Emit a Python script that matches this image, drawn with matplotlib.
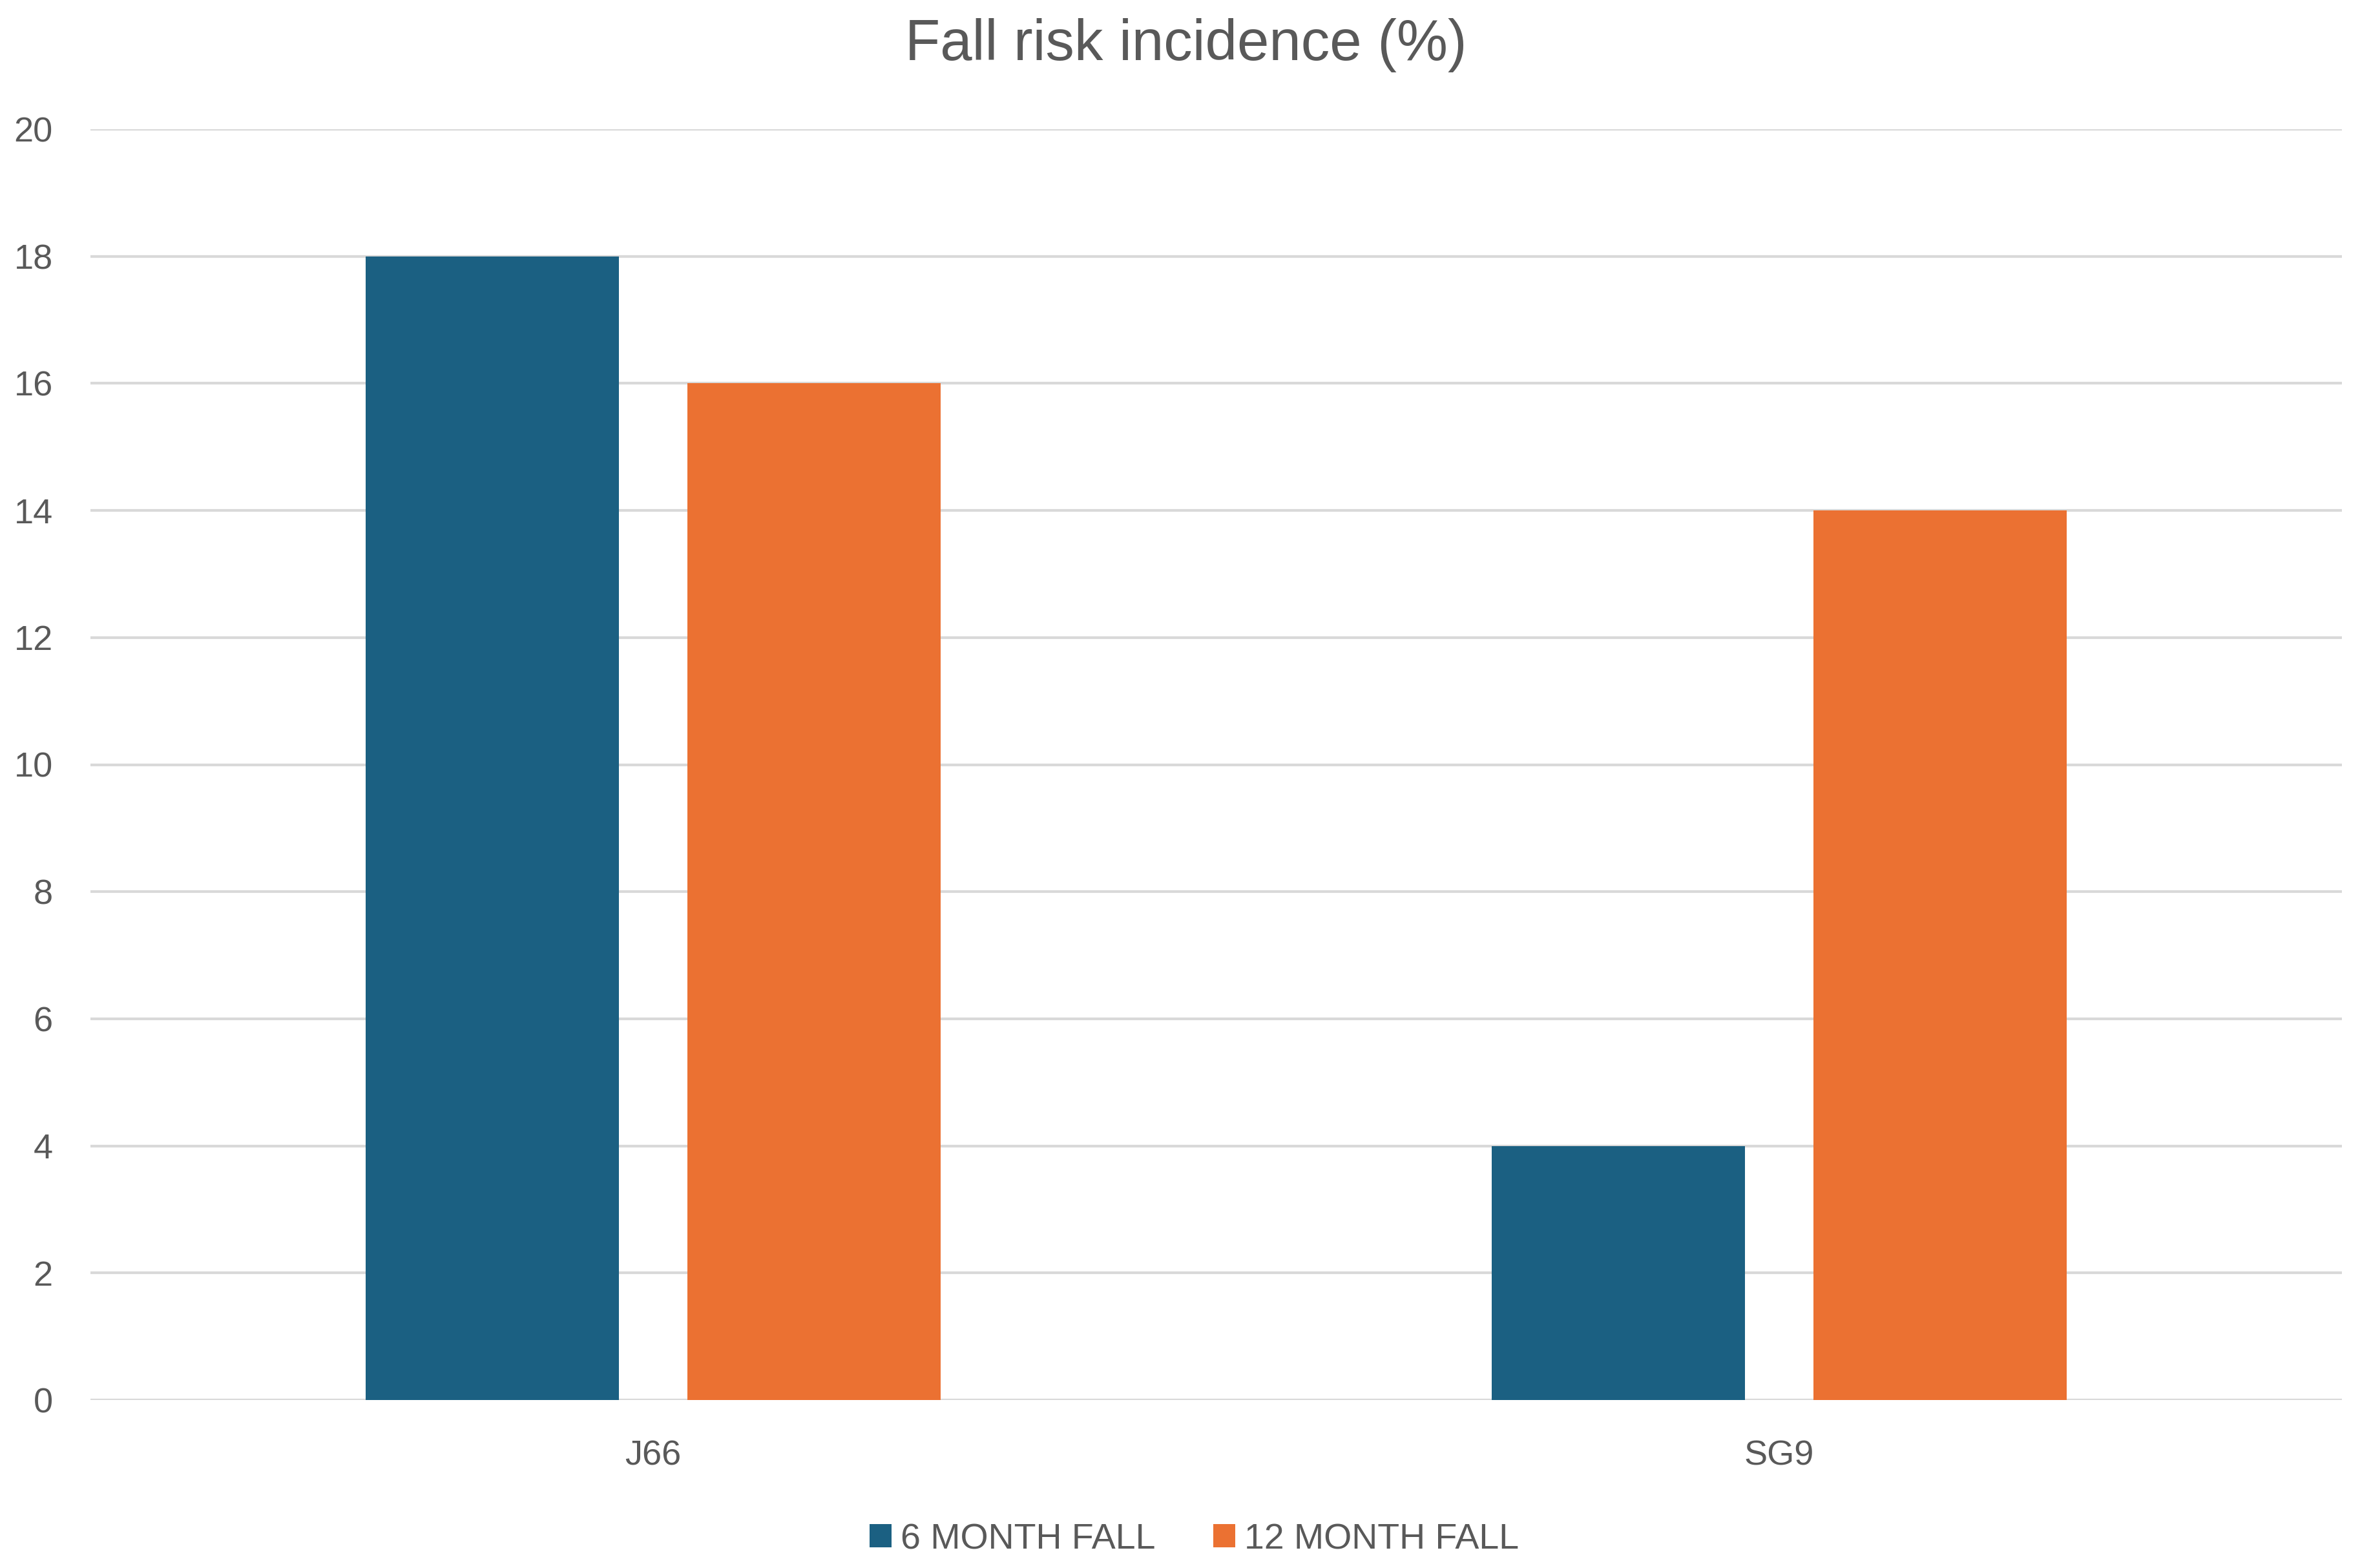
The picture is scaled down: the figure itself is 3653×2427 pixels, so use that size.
import matplotlib
matplotlib.use("Agg")
import matplotlib.pyplot as plt
import numpy as np

categories = ["J66", "SG9"]
series_names = ["6 MONTH FALL", "12 MONTH FALL"]
six_month = [18, 4]
twelve_month = [16, 14]
yticks = [0, 2, 4, 6, 8, 10, 12, 14, 16, 18, 20]

colors = ["#1B6082", "#EB7132"]
text_color = "#595959"
grid_color = "#D9D9D9"

plt.rcParams['font.family'] = ['Liberation Sans', 'DejaVu Sans']

W, H, DPI = 3653, 2427, 200
fig = plt.figure(figsize=(W / DPI, H / DPI), dpi=DPI)
ax = fig.add_axes([140 / W, 1 - 2167 / H, (3625 - 140) / W, (2167 - 200) / H])

x = np.arange(len(categories))
bw = 0.225
off = 0.143
ax.bar(x - off, six_month, width=bw, color=colors[0], label=series_names[0], zorder=3)
ax.bar(x + off, twelve_month, width=bw, color=colors[1], label=series_names[1], zorder=3)

ax.set_xlim(-0.5, len(categories) - 0.5)
ax.set_ylim(0, 20)
ax.set_yticks(yticks)
ax.set_yticklabels([str(v) for v in yticks])
ax.set_xticks(x)
ax.set_xticklabels(categories)

ax.yaxis.grid(True, color=grid_color, linewidth=1.5, zorder=0)
ax.set_axisbelow(True)
for s in ax.spines.values():
    s.set_visible(False)
ax.tick_params(axis='both', length=0, labelsize=19.5, labelcolor=text_color)
ax.tick_params(axis='y', pad=21)
ax.tick_params(axis='x', pad=22)

fig.text(0.5025, 1 - 70 / H, "Fall risk incidence (%)", ha='center', va='center',
         fontsize=32, color=text_color)

leg = fig.legend(loc='center', bbox_to_anchor=(0.506, 1 - 2383 / H), ncol=2,
                 frameon=False, fontsize=20, handlelength=0.62, handleheight=0.62,
                 handletextpad=0.25, columnspacing=1.6)
for t in leg.get_texts():
    t.set_color(text_color)

fig.savefig("out.png", dpi=DPI, facecolor="white")
